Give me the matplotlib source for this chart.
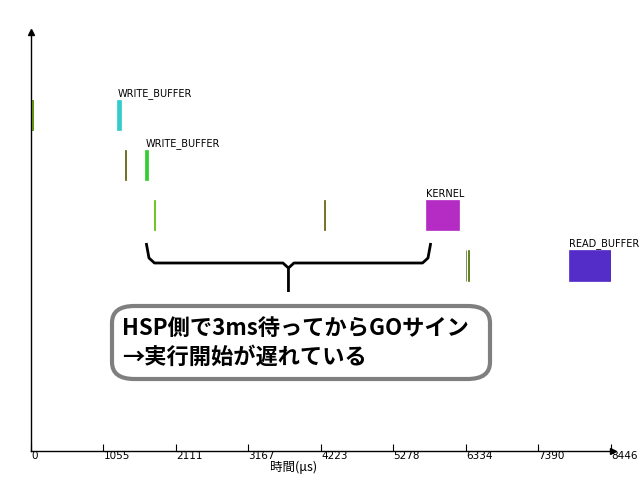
import matplotlib.pyplot as plt
from matplotlib.patches import FancyBboxPatch

plt.rcParams['font.family'] = ['Noto Sans CJK JP', 'DejaVu Sans']

# timeline events (start, end in us), row index, colour, label
rows = [0, 0, 1, 1, 2, 2, 2, 3, 3, 3]
starts = [0, 1255, 1365, 1663, 1786, 4265, 5748, 6329, 6359, 7834]
ends = [28, 1313, 1378, 1707, 1802, 4278, 6229, 6341, 6371, 8446]
colors = ['#66bb00', '#33cccc', '#777700', '#33cc33', '#5fc400',
          '#888800', '#b42cc4', '#559900', '#559900', '#542cc8']
edges = ['#556600', '#33cccc', '#555500', '#33cc33', '#55bb00',
         '#555500', '#b42cc4', '#446600', '#446600', '#542cc8']
labels = ['', 'WRITE_BUFFER', '', 'WRITE_BUFFER', '', '', 'KERNEL', '', '', 'READ_BUFFER']

xticks = [0, 1055, 2111, 3167, 4223, 5278, 6334, 7390, 8446]

# brace over the delay (us / row units)
brace_left, brace_mid, brace_right = 1678, 3749, 5821
brace_top, brace_line, brace_tip = 2.55, 2.95, 3.53

note = 'HSP側で3ms待ってからGOサイン\n→実行開始が遅れている'

fig = plt.figure(figsize=(6.4, 4.8), dpi=100)
ax = fig.add_axes([31/640, 1-451/480, 580/640, 419/480])

for r, s, e, c, ec, lab in zip(rows, starts, ends, colors, edges, labels):
    ax.barh(r, e - s, left=s, height=0.6, color=c, edgecolor=ec, linewidth=0.5)
    if lab:
        ax.text(s, r - 0.32, lab, fontsize=7, family='DejaVu Sans',
                ha='left', va='bottom', color='black')

ax.set_xlim(0, 8446)
ax.set_ylim(6.71, -1.67)
for side in ['top', 'right']:
    ax.spines[side].set_visible(False)
ax.spines['left'].set_linewidth(1)
ax.spines['bottom'].set_linewidth(1)
ax.set_yticks([])
ax.set_xticks(xticks)
ax.set_xticklabels([str(t) for t in xticks], fontsize=7.5, family='DejaVu Sans', ha='left')
ax.tick_params(axis='x', direction='in', length=5, pad=0)

# arrow heads on the axes
ax.plot([0], [1], marker='^', markersize=4, color='black', transform=ax.transAxes, clip_on=False)
ax.plot([1.003], [0], marker='>', markersize=4, color='black', transform=ax.transAxes, clip_on=False)

fig.text(270/640, 1-467/480, '時間(μs)', fontsize=9, ha='left', va='center')

# brace
ax.plot([brace_left, brace_left + 40, brace_left + 120, brace_mid - 80, brace_mid, brace_mid],
        [brace_top, brace_line - 0.1, brace_line, brace_line, brace_line + 0.1, brace_tip],
        color='black', lw=2, solid_capstyle='butt')
ax.plot([brace_right, brace_right - 40, brace_right - 120, brace_mid + 80, brace_mid],
        [brace_top, brace_line - 0.1, brace_line, brace_line, brace_line + 0.1],
        color='black', lw=2, solid_capstyle='butt')

# note box
box = FancyBboxPatch((112/640, 1-379/480), 378/640, 73/480,
                     boxstyle='round,pad=0,rounding_size=0.035',
                     transform=fig.transFigure, facecolor='white',
                     edgecolor='#7f7f7f', linewidth=3)
fig.patches.append(box)
fig.text(122/640, 1-343/480, note, fontsize=16, fontweight='bold',
         ha='left', va='center', linespacing=1.35)

fig.savefig('out.png', dpi=100)
